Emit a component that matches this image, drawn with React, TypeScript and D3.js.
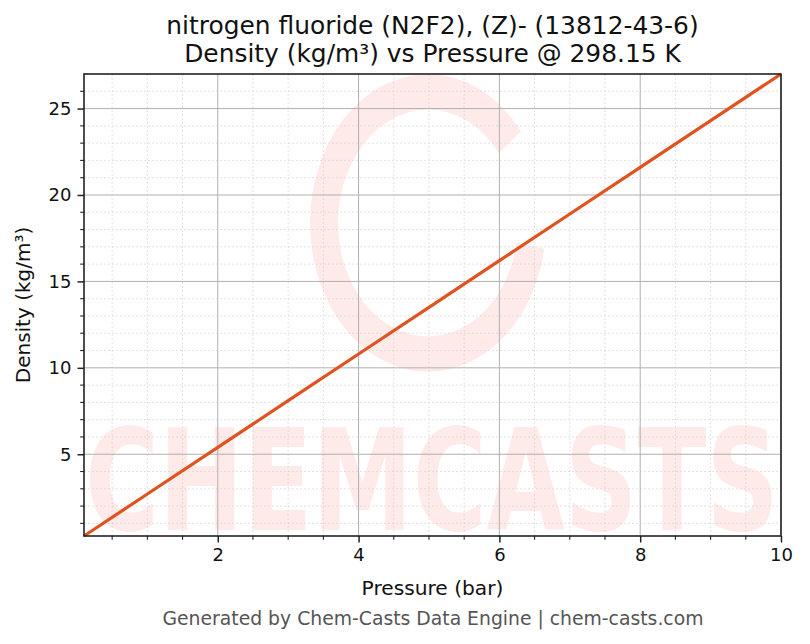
import React, { useRef, useEffect } from "react";
import * as d3 from "d3";

// values
const pressure = [0.1, 1, 2, 3, 4, 5, 6, 7, 8, 9, 10];
const density = [0.27, 2.7, 5.4, 8.1, 10.8, 13.5, 16.2, 18.9, 21.6, 24.3, 27.0];
const xTicks = [2, 4, 6, 8, 10];
const yTicks = [5, 10, 15, 20, 25];

const titleLines = [
  "nitrogen fluoride (N2F2), (Z)- (13812-43-6)",
  "Density (kg/m³) vs Pressure @ 298.15 K",
];
const xLabel = "Pressure (bar)";
const yLabel = "Density (kg/m³)";
const footer = "Generated by Chem-Casts Data Engine | chem-casts.com";

const FONT = "'DejaVu Sans', sans-serif";

const Chart: React.FC = () => {
  const svgRef = useRef<SVGSVGElement>(null);

  useEffect(() => {
    if (!svgRef.current) return;
    const width = 810;
    const height = 644;
    const margin = { top: 74, right: 29, bottom: 108, left: 84 };
    const innerWidth = width - margin.left - margin.right;
    const innerHeight = height - margin.top - margin.bottom;

    const root = d3.select(svgRef.current);
    root.selectAll("*").remove();
    root.attr("width", width).attr("height", height);

    root.append("rect").attr("width", width).attr("height", height).attr("fill", "white");

    const xScale = d3
      .scaleLinear()
      .domain(d3.extent(pressure) as [number, number])
      .range([0, innerWidth]);
    const yScale = d3
      .scaleLinear()
      .domain(d3.extent(density) as [number, number])
      .range([innerHeight, 0]);

    const svg = root
      .append("g")
      .attr("transform", `translate(${margin.left},${margin.top})`);

    // watermark (logo ring + wordmark)
    const wm = svg.append("g").attr("fill", "#feeae8");
    const arc = d3
      .arc<any>()
      .innerRadius(90)
      .outerRadius(118)
      .startAngle((100 * Math.PI) / 180)
      .endAngle((412 * Math.PI) / 180);
    wm.append("path")
      .attr("d", arc({}) as string)
      .attr("transform", `translate(${428 - margin.left},${223 - margin.top}) scale(1,1.26)`);
    wm.append("text")
      .attr("x", 1)
      .attr("y", 530 - margin.top)
      .attr("font-family", FONT)
      .attr("font-weight", "bold")
      .attr("font-size", 140)
      .attr("textLength", 694)
      .attr("lengthAdjust", "spacingAndGlyphs")
      .text("CHEMCASTS");

    // minor grid
    const xMinor = d3.range(0.5, 10, 0.5).filter((v) => v % 2 !== 0);
    const yMinor = d3.range(1, 27, 1).filter((v) => v % 5 !== 0);
    svg
      .append("g")
      .selectAll("line")
      .data(xMinor)
      .enter()
      .append("line")
      .attr("x1", (d) => xScale(d))
      .attr("x2", (d) => xScale(d))
      .attr("y1", 0)
      .attr("y2", innerHeight)
      .attr("stroke", "#d6d6d6")
      .attr("stroke-width", 0.7)
      .attr("stroke-dasharray", "2,2");
    svg
      .append("g")
      .selectAll("line")
      .data(yMinor)
      .enter()
      .append("line")
      .attr("x1", 0)
      .attr("x2", innerWidth)
      .attr("y1", (d) => yScale(d))
      .attr("y2", (d) => yScale(d))
      .attr("stroke", "#d6d6d6")
      .attr("stroke-width", 0.7)
      .attr("stroke-dasharray", "2,2");

    // major grid
    svg
      .append("g")
      .selectAll("line")
      .data(xTicks)
      .enter()
      .append("line")
      .attr("x1", (d) => xScale(d))
      .attr("x2", (d) => xScale(d))
      .attr("y1", 0)
      .attr("y2", innerHeight)
      .attr("stroke", "#b0b0b0")
      .attr("stroke-width", 1);
    svg
      .append("g")
      .selectAll("line")
      .data(yTicks)
      .enter()
      .append("line")
      .attr("x1", 0)
      .attr("x2", innerWidth)
      .attr("y1", (d) => yScale(d))
      .attr("y2", (d) => yScale(d))
      .attr("stroke", "#b0b0b0")
      .attr("stroke-width", 1);

    // line
    const line = d3
      .line<number>()
      .x((_, i) => xScale(pressure[i]))
      .y((d) => yScale(d));
    svg
      .append("path")
      .datum(density)
      .attr("fill", "none")
      .attr("stroke", "#e0531f")
      .attr("stroke-width", 3.2)
      .attr("d", line);

    // frame
    svg
      .append("rect")
      .attr("width", innerWidth)
      .attr("height", innerHeight)
      .attr("fill", "none")
      .attr("stroke", "#222")
      .attr("stroke-width", 1.6);

    // minor ticks
    const minorTicks = svg.append("g").attr("stroke", "#222").attr("stroke-width", 1.1);
    minorTicks
      .selectAll(".mx")
      .data(xMinor)
      .enter()
      .append("line")
      .attr("class", "mx")
      .attr("x1", (d) => xScale(d))
      .attr("x2", (d) => xScale(d))
      .attr("y1", innerHeight)
      .attr("y2", innerHeight + 3.8);
    minorTicks
      .selectAll(".my")
      .data(yMinor)
      .enter()
      .append("line")
      .attr("class", "my")
      .attr("x1", -3.8)
      .attr("x2", 0)
      .attr("y1", (d) => yScale(d))
      .attr("y2", (d) => yScale(d));

    // axes
    const xAxis = svg
      .append("g")
      .attr("transform", `translate(0,${innerHeight})`)
      .call(d3.axisBottom(xScale).tickValues(xTicks).tickSize(6.5).tickPadding(6).tickFormat(d3.format("d")));
    const yAxis = svg
      .append("g")
      .call(d3.axisLeft(yScale).tickValues(yTicks).tickSize(6.5).tickPadding(6).tickFormat(d3.format("d")));
    [xAxis, yAxis].forEach((g) => {
      g.select(".domain").remove();
      g.selectAll("line").attr("stroke", "#222").attr("stroke-width", 1.5);
      g.selectAll("text").attr("font-family", FONT).attr("font-size", 18).attr("fill", "#111");
    });

    // labels
    svg
      .append("text")
      .attr("x", innerWidth / 2)
      .attr("y", 595 - margin.top)
      .attr("text-anchor", "middle")
      .attr("font-family", FONT)
      .attr("font-size", 20.2)
      .attr("fill", "#111")
      .text(xLabel);
    svg
      .append("text")
      .attr("transform", "rotate(-90)")
      .attr("x", -innerHeight / 2)
      .attr("y", 30 - margin.left)
      .attr("text-anchor", "middle")
      .attr("font-family", FONT)
      .attr("font-size", 20)
      .attr("fill", "#111")
      .text(yLabel);

    titleLines.forEach((t, i) => {
      svg
        .append("text")
        .attr("x", innerWidth / 2)
        .attr("y", 34 + i * 28 - margin.top)
        .attr("text-anchor", "middle")
        .attr("font-family", FONT)
        .attr("font-size", 24.9)
        .attr("fill", "#111")
        .text(t);
    });

    root
      .append("text")
      .attr("x", 433)
      .attr("y", 625)
      .attr("text-anchor", "middle")
      .attr("font-family", FONT)
      .attr("font-size", 18.8)
      .attr("fill", "#555")
      .text(footer);
  }, []);

  return <svg ref={svgRef}></svg>;
};

export default function App() {
  return (
    <div style={{ position: "absolute", left: 0, top: 0 }}>
      <Chart />
    </div>
  );
}
